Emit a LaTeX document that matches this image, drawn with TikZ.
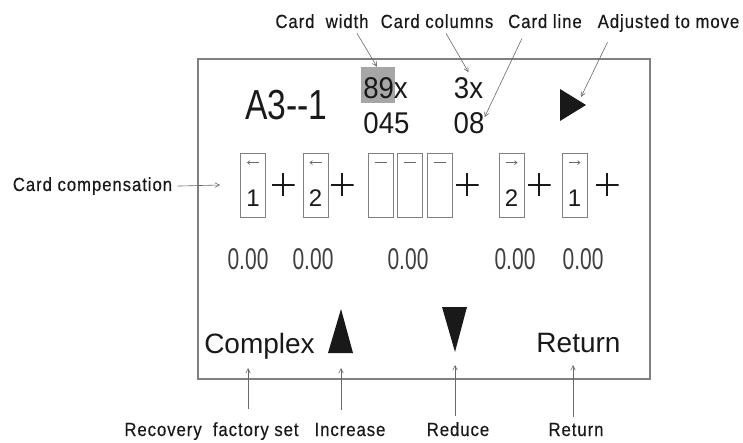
\documentclass[tikz,border=0pt]{standalone}
\usepackage{fontspec}
\setmainfont{Liberation Sans}
\newfontfamily\notefont[LetterSpace=5, FakeStretch=0.88, FakeBold=0.4]{Liberation Sans}
\usetikzlibrary{arrows.meta}
\definecolor{Panelgray}{RGB}{128,128,128}
\definecolor{Markgray}{RGB}{166,166,166}
\definecolor{Leadgray}{RGB}{105,105,105}
\definecolor{Inkblack}{RGB}{25,25,25}

\begin{document}
\begin{tikzpicture}[x=1pt, y=-1pt,
        note/.style={font=\notefont\fontsize{19}{22}\selectfont, inner sep=0pt, anchor=base, text=Inkblack},
        lcd/.style={font=\fontsize{#1}{#1}\selectfont, inner sep=0pt, text=Inkblack},
        lead/.style={Leadgray, line width=0.6pt, -{Straight Barb[length=4.5pt, width=4.5pt]}},
        cardbox/.style={draw=Panelgray, line width=0.8pt, minimum width=25pt, minimum height=64pt, inner sep=0pt},
        plussign/.style={minimum size=23pt, inner sep=0pt, path picture={
            \draw[Inkblack, line width=1.5pt] (path picture bounding box.north) -- (path picture bounding box.south)
                (path picture bounding box.west) -- (path picture bounding box.east);}}]
            \useasboundingbox (0,0) rectangle (743,443);
            \node[draw=Panelgray, line width=1.3pt, minimum width=452pt, minimum height=320pt, inner sep=0pt] (screen) at (424,219) {};

            \node[lcd=42] (mode) at (286.5,105) {\scalebox{0.8}[1]{A3-{}-1}};
            \node[fill=Markgray, minimum width=34pt, minimum height=36pt, inner sep=0pt] (mark) at (378,85) {};
            \node[lcd=30] (wide) at (385.5,88) {\scalebox{0.92}[1]{89x}};
            \node[lcd=30] (wideval) at (386.5,123) {\scalebox{0.92}[1]{045}};
            \node[lcd=30] (cols) at (468.5,88) {\scalebox{0.92}[1]{3x}};
            \node[lcd=30] (colsval) at (469,123) {\scalebox{0.92}[1]{08}};
            \fill[Inkblack] (560,89) -- (560,121) -- (586,105) -- cycle;
            \coordinate (playedge) at (581,97);

            \node[note] (lwidth) at (322,28) {Card\ \ width};
            \node[note] (lcols) at (437,28) {Card columns};
            \node[note] (lline) at (545,28) {Card line};
            \node[note] (lmove) at (668.5,28) {Adjusted to move};
            \draw[lead] ([xshift=35pt, yshift=-5pt]lwidth.south) -- ([xshift=-1pt]mark.north);
            \draw[lead] ([xshift=9pt, yshift=-5pt]lcols.south) -- ([yshift=5pt]cols.north);
            \draw[lead] ([xshift=-23pt, yshift=-10pt]lline.south) -- ([yshift=-5pt]colsval.north east);
            \draw[lead] ([xshift=-61pt, yshift=-10pt]lmove.south) -- (playedge);

            \foreach \nm/\cx/\num in {cardA/253/1, cardB/315.5/2}{
                \node[cardbox] (\nm) at (\cx,185) {};
                \draw[Leadgray, line width=0.6pt, -{Straight Barb[length=2.5pt, width=4pt]}] ([xshift=6pt, yshift=-10pt]\nm.north) -- ([xshift=-6pt, yshift=-10pt]\nm.north);
                \node[lcd=24] (\nm-d) at (\cx,198.5) {\num};
            }
            \foreach \nm/\cx in {blankA/380.5, blankB/410, blankC/439.5}{
                \node[cardbox] (\nm) at (\cx,185) {};
                \draw[Leadgray, line width=0.7pt] ([xshift=-6pt, yshift=-10pt]\nm.north) -- ([xshift=6pt, yshift=-10pt]\nm.north);
            }
            \foreach \nm/\cx/\num in {cardD/511.5/2, cardE/574.5/1}{
                \node[cardbox] (\nm) at (\cx,185) {};
                \draw[Leadgray, line width=0.6pt, -{Straight Barb[length=2.5pt, width=4pt]}] ([xshift=-6pt, yshift=-10pt]\nm.north) -- ([xshift=6pt, yshift=-10pt]\nm.north);
                \node[lcd=24] (\nm-d) at (\cx,198.5) {\num};
            }
            \foreach \nm/\cx in {plusA/283, plusB/342, plusC/467, plusD/539, plusE/607}
                \node[plussign] (\nm) at (\cx,185) {};

            \node[note] (lcomp) at (92.5,191) {Card compensation};
            \draw[lead] ([xshift=5pt]lcomp.east) -- ([xshift=-20pt]cardA.west);

            \foreach \nm/\cx in {valA/248, valB/313, valC/408, valD/515, valE/583}
                \node[lcd=30, text=black!75] (\nm) at (\cx,259) {\scalebox{0.7}[1]{0.00}};

            \node[lcd=28, anchor=base] (reset) at (259.5,353) {Complex};
            \node[lcd=28, anchor=base] (back) at (578.5,352) {Return};
            \fill[Inkblack] (328,353) -- (353,353) -- (341,309) -- cycle;
            \fill[Inkblack] (442,307) -- (467,307) -- (455,352) -- cycle;
            \coordinate (kReset) at (248,368);
            \coordinate (kUp) at (341,368);
            \coordinate (kDown) at (455,365);
            \coordinate (kBack) at (573,365);

            \node[note] (lrec) at (211.5,436) {Recovery\ \ factory set};
            \node[note] (linc) at (350,436) {Increase};
            \node[note] (lred) at (458,436) {Reduce};
            \node[note] (lret) at (576,436) {Return};
            \draw[lead] ([yshift=13pt]lrec.north -| kReset) -- (kReset);
            \draw[lead] ([yshift=13pt]linc.north -| kUp) -- (kUp);
            \draw[lead] ([yshift=6pt]lred.north -| kDown) -- (kDown);
            \draw[lead] ([yshift=6pt]lret.north -| kBack) -- (kBack);
\end{tikzpicture}
\end{document}
